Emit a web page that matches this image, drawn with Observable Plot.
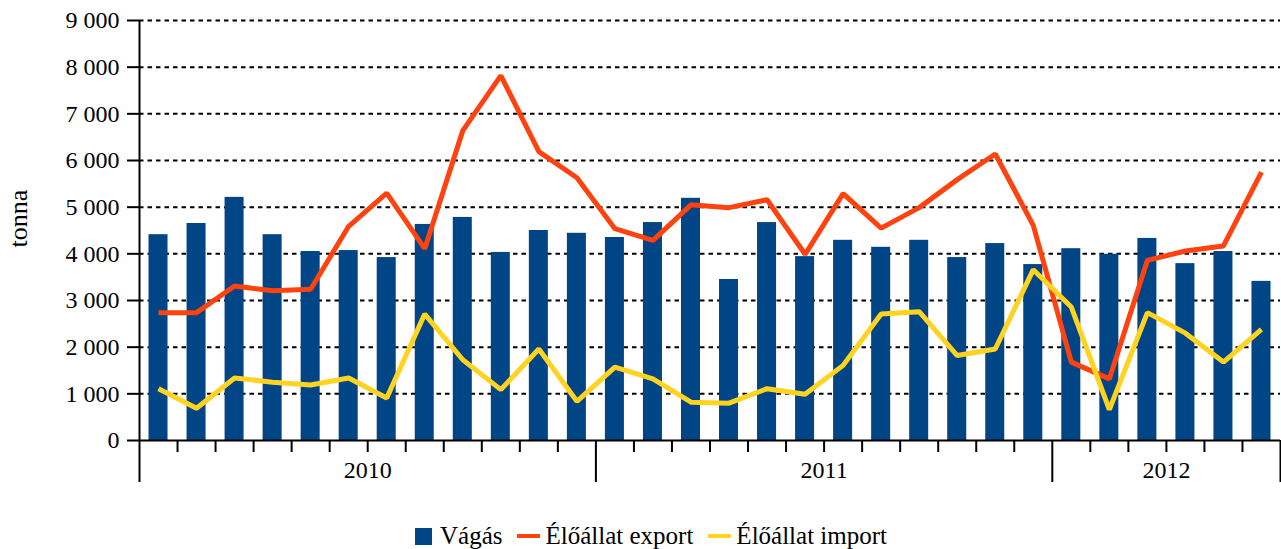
<!DOCTYPE html>
<html>
<head>
<meta charset="utf-8">
<script src="https://cdn.jsdelivr.net/npm/d3@7"></script>
<script src="https://cdn.jsdelivr.net/npm/@observablehq/plot@0.6"></script>
<style>
  body { margin: 0; background: #fff; font-family: "Liberation Serif", "Times New Roman", serif; width: 1281px; height: 549px; position: relative; overflow: hidden; }
  #chart svg { display: block; }
  #chart g[aria-label^="y-axis"] line, #chart g[aria-label^="y-axis"] path { stroke-width: 2px; }
  .legend { position: absolute; left: 415px; top: 523px; display: flex; align-items: center; font-size: 25px; line-height: 26px; color: #000; white-space: nowrap; }
  .legend .item { display: flex; align-items: center; margin-right: 15px; }
  .legend .sq { width: 17px; height: 17px; margin-right: 8px; }
  .legend .ln { width: 23px; height: 4px; margin-right: 5px; }
</style>
</head>
<body>
<div id="chart"></div>
<div class="legend" id="legend"></div>
<script>
// ---- data ----
const years = ["2010", "2011", "2012"];
const monthsPerYear = [12, 12, 6];
const seriesNames = ["Vágás", "Élőállat export", "Élőállat import"];
const seriesColors = ["#004586", "#ff420e", "#ffd320"];
const vagas = [4410, 4650, 5210, 4410, 4050, 4070, 3920, 4630, 4780, 4030, 4500, 4440,
               4350, 4670, 5190, 3450, 4670, 3940, 4290, 4140, 4290, 3920, 4220, 3770,
               4110, 3990, 4330, 3790, 4050, 3410];
const exportVals = [2740, 2740, 3310, 3210, 3240, 4590, 5300, 4110, 6640, 7820, 6190, 5630,
                    4540, 4290, 5050, 4990, 5160, 3990, 5290, 4550, 4990, 5590, 6140, 4610,
                    1680, 1320, 3860, 4060, 4170, 5750];
const importVals = [1110, 690, 1340, 1250, 1190, 1340, 910, 2710, 1730, 1090, 1960, 840,
                    1570, 1320, 820, 800, 1110, 990, 1610, 2710, 2760, 1820, 1960, 3660,
                    2860, 660, 2740, 2300, 1680, 2380];
const yTicks = [0, 1000, 2000, 3000, 4000, 5000, 6000, 7000, 8000, 9000];
const yLabel = "tonna";

// ---- derived tables ----
const data = vagas.map((v, i) => ({i, vagas: v, exp: exportVals[i], imp: importVals[i]}));
const nMonths = data.length;
const yearStarts = monthsPerYear.map((n, k) => d3.sum(monthsPerYear.slice(0, k)));
const yearBounds = [...yearStarts, nMonths];
const yearCenters = years.map((y, k) => ({year: y, c: yearStarts[k] + monthsPerYear[k] / 2}));
const monthBounds = d3.range(1, nMonths).filter(k => !yearStarts.includes(k));

const H = 500, mTop = 20, mBottom = 60;
const yMax = 9000;
const unitsPerPx = yMax / (H - mTop - mBottom);
const below = px => -px * unitsPerPx;
const fmt = d => d3.format(",")(d).replace(/,/g, "\u00a0");

const chart = Plot.plot({
  width: 1281,
  height: H,
  marginLeft: 139,
  marginRight: 1,
  marginTop: mTop,
  marginBottom: mBottom,
  style: {fontSize: "24px", fontFamily: "'Liberation Serif', 'Times New Roman', serif", background: "white", color: "black", overflow: "visible"},
  x: {domain: [0, nMonths], axis: null},
  y: {domain: [0, yMax], ticks: yTicks, tickFormat: fmt, tickSize: 12, tickPadding: 8, label: null},
  marks: [
    Plot.ruleY(yTicks.filter(d => d > 0), {y: d => d, stroke: "black", strokeWidth: 2, strokeDasharray: "4.5,4"}),
    Plot.rect(data, {x1: d => d.i + 0.25, x2: d => d.i + 0.75, y1: 0, y2: d => d.vagas, fill: seriesColors[0]}),
    Plot.line(data, {x: d => d.i + 0.5, y: d => d.exp, stroke: seriesColors[1], strokeWidth: 5, strokeLinecap: "butt", strokeLinejoin: "miter"}),
    Plot.line(data, {x: d => d.i + 0.5, y: d => d.imp, stroke: seriesColors[2], strokeWidth: 5, strokeLinecap: "butt", strokeLinejoin: "miter"}),
    Plot.ruleY([0], {stroke: "black", strokeWidth: 2}),
    Plot.ruleX(monthBounds, {x: d => d, y1: 0, y2: below(12), stroke: "black", strokeWidth: 2}),
    Plot.ruleX(yearBounds, {x: d => d, y1: 0, y2: below(42), stroke: "black", strokeWidth: 2}),
    Plot.ruleX([0], {x: d => d, y1: 0, y2: yMax, stroke: "black", strokeWidth: 2}),
    Plot.text(yearCenters, {x: "c", y: 0, dy: 30, text: "year", fill: "black"}),
    Plot.text([yLabel], {frameAnchor: "left", dx: -121, dy: 17, rotate: -90, fontSize: 26, fill: "black"})
  ]
});
document.getElementById("chart").append(chart);

// ---- legend ----
const legend = document.getElementById("legend");
seriesNames.forEach((name, k) => {
  const item = document.createElement("div");
  item.className = "item";
  const sw = document.createElement("span");
  sw.className = k === 0 ? "sq" : "ln";
  sw.style.background = seriesColors[k];
  const t = document.createElement("span");
  t.textContent = name;
  item.append(sw, t);
  legend.append(item);
});
</script>
</body>
</html>
